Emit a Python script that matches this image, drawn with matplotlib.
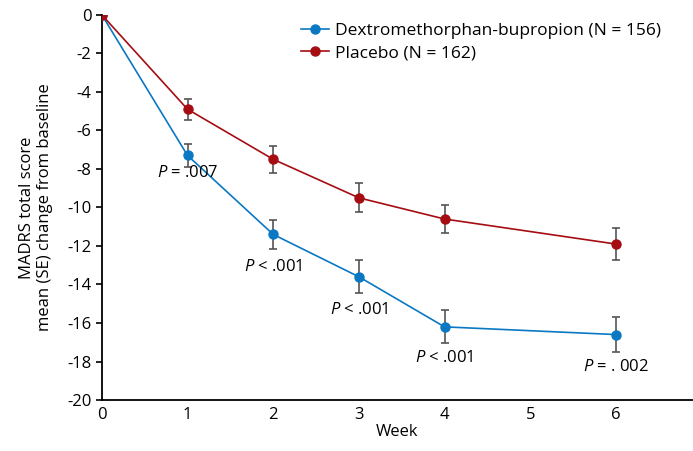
import matplotlib.pyplot as plt
import numpy as np

plt.rcParams['font.family'] = ['Open Sans', 'DejaVu Sans']
plt.rcParams['axes.unicode_minus'] = False
plt.rcParams['mathtext.fontset'] = 'custom'
plt.rcParams['mathtext.it'] = 'Open Sans:italic'
plt.rcParams['mathtext.rm'] = 'Open Sans'

weeks = [0, 1, 2, 3, 4, 6]
dex_mean = [0, -7.3, -11.4, -13.6, -16.2, -16.6]
dex_se = [0, 0.6, 0.75, 0.85, 0.85, 0.9]
pbo_mean = [0, -4.9, -7.5, -9.5, -10.6, -11.9]
pbo_se = [0, 0.55, 0.7, 0.75, 0.75, 0.85]
p_weeks = [1, 2, 3, 4, 6]
p_labels = [('=', '.007'), ('<', '.001'), ('<', '.001'), ('<', '.001'), ('=', '. 002')]
p_y = [-8.2, -13.1, -15.3, -17.8, -18.3]

blue = '#0a78c2'
red = '#a50d12'

fig = plt.figure(figsize=(6.93, 4.51), dpi=100)
ax = fig.add_axes([0.147, 0.113, 0.853, 0.854])

for mean, se, color, label in [(dex_mean, dex_se, blue, 'Dextromethorphan-bupropion (N = 156)'),
                                (pbo_mean, pbo_se, red, 'Placebo (N = 162)')]:
    se_plot = np.array(se, dtype=float)
    ax.errorbar(weeks[1:], mean[1:], yerr=se_plot[1:], fmt='none', ecolor='#555555',
                elinewidth=1.2, capsize=3, capthick=1.2, zorder=2)
    ax.plot(weeks, mean, color=color, marker='o', markersize=6.5, linewidth=1.2,
            label=label, zorder=3)

for w, (op, val), y in zip(p_weeks, p_labels, p_y):
    ax.text(w, y, f'$\\mathit{{P}}$ {op} {val}', ha='center', va='center', fontsize=12)

ax.set_xlim(0, 6.9)
ax.set_ylim(-20, 0)
ax.set_xticks(range(0, 7))
ax.set_yticks(range(-20, 1, 2))
ax.tick_params(axis='x', length=0, labelsize=12, pad=5)
ax.tick_params(axis='y', length=4, width=1.2, labelsize=12)
for s in ['top', 'right']:
    ax.spines[s].set_visible(False)
for s in ['left', 'bottom']:
    ax.spines[s].set_linewidth(1.3)
ax.set_xlabel('Week', fontsize=12, labelpad=1)
ax.set_ylabel('MADRS total score\nmean (SE) change from baseline', fontsize=12,
              linespacing=1.2, labelpad=10)

ax.legend(loc='upper left', bbox_to_anchor=(0.31, 1.02), frameon=False, fontsize=12.5,
          handlelength=1.6, handletextpad=0.4, labelspacing=0.35)

fig.savefig('out.png', dpi=100)
